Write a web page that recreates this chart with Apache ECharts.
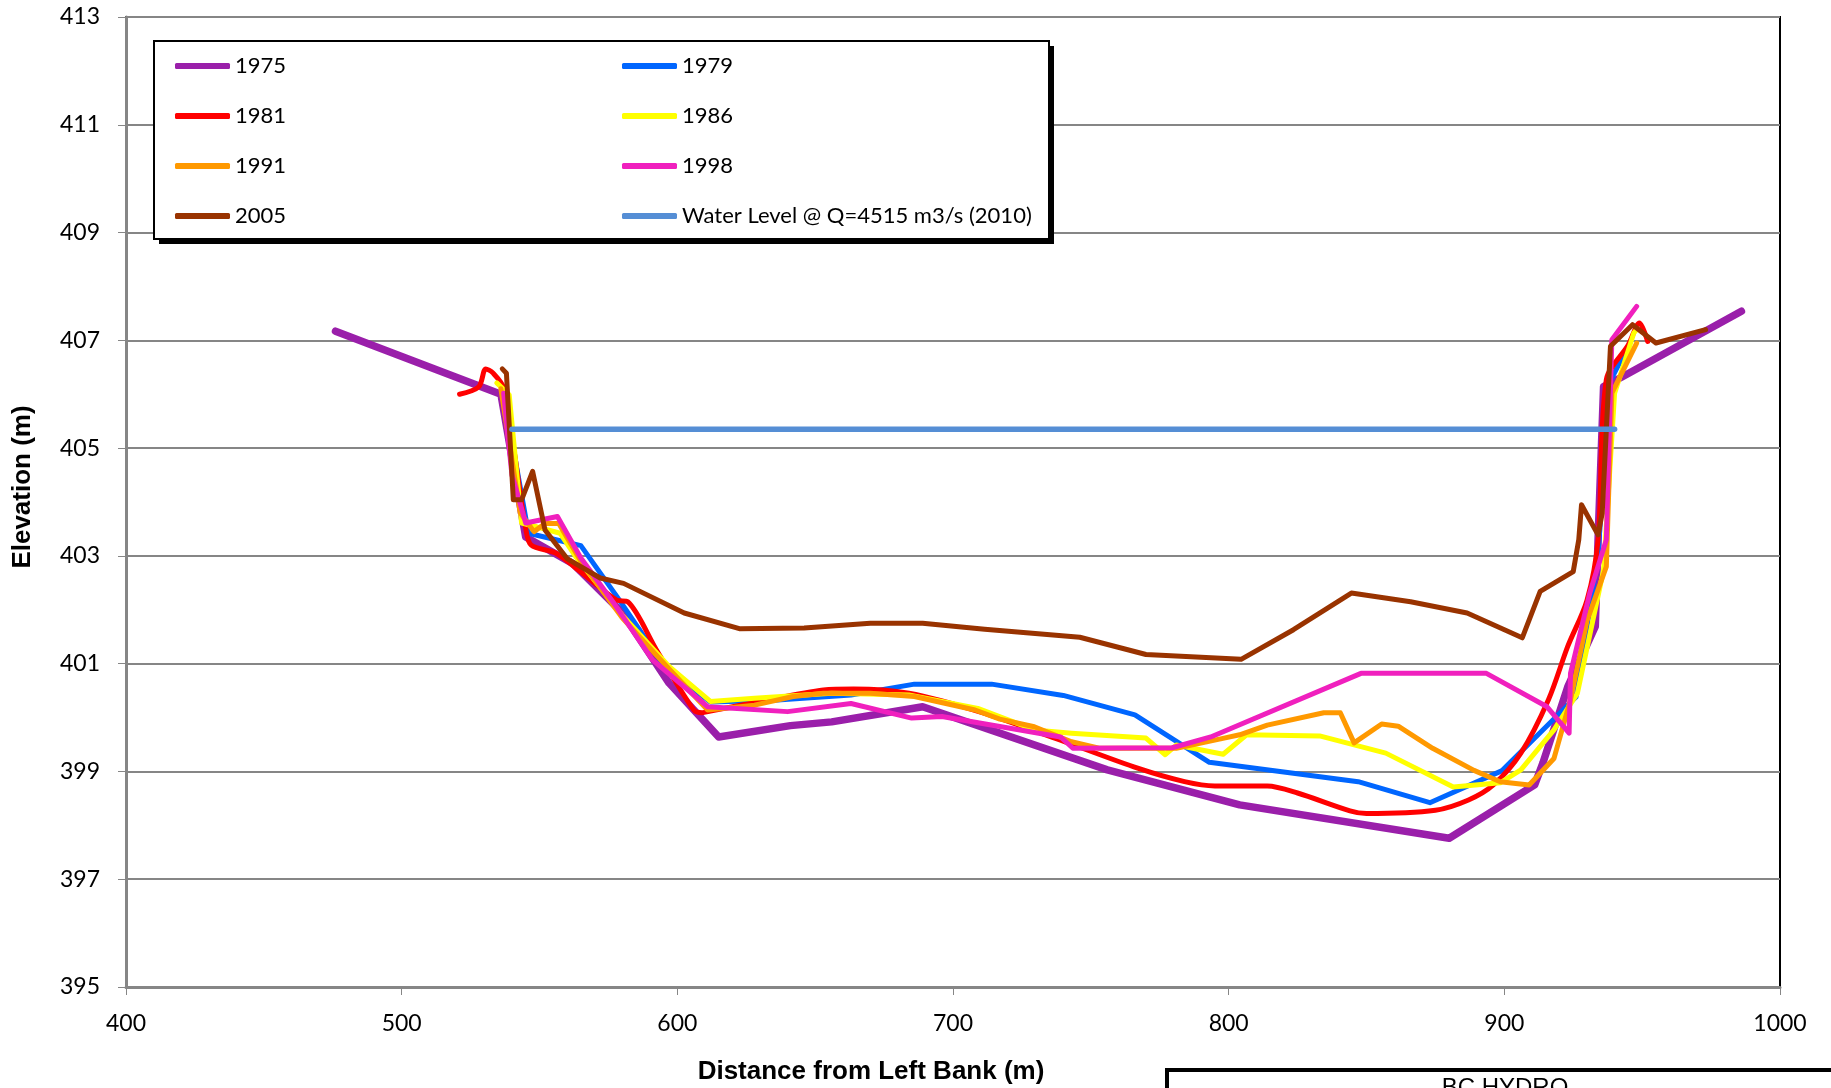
<!DOCTYPE html>
<html><head><meta charset="utf-8">
<script src="https://cdn.jsdelivr.net/npm/echarts@6/dist/echarts.min.js"></script>
<style>html,body{margin:0;padding:0;background:#fff;}#c{width:1831px;height:1088px;}</style>
</head><body><div id="c"></div>
<script>
// ---- data (distance from left bank [m], elevation [m]) ----
const xTicks = [400, 500, 600, 700, 800, 900, 1000];
const yTicks = [395, 397, 399, 401, 403, 405, 407, 409, 411, 413];

const names = ['1975', '1979', '1981', '1986', '1991', '1998', '2005', 'Water Level @ Q=4515 m3/s (2010)'];
const colors = ['#9A1FAA', '#0066FF', '#FF0000', '#FFFF00', '#FF9900', '#F020BE', '#993300', '#558ED5'];

const s1975 = [[476,407.17],[536,406.0],[545,403.35],[562,402.86],[580,401.95],[597,400.64],[615,399.64],[641,399.85],[656,399.92],[689,400.2],[756,399.03],[804,398.38],[880,397.76],[911,398.75],[914,399.16],[923,400.57],[933,401.69],[934,403.3],[936,406.14],[943,406.33],[986,407.54]];
const s1979 = [[537,405.99],[546,403.42],[556,403.3],[565,403.19],[579,402.18],[596,400.9],[612,400.29],[635,400.32],[663,400.42],[686,400.62],[714,400.62],[740,400.41],[766,400.05],[793,399.17],[847,398.81],[873,398.42],[899,399.01],[926,400.38],[934,403.0],[938,406.2],[946,407.0]];
const s1981 = [[521,406.0],[528,406.14],[530.5,406.47],[533,406.4],[537,406.11],[545,403.51],[547,403.2],[556,403.05],[565,402.7],[578,402.18],[582,402.15],[592.5,401.25],[606,400.14],[609,400.09],[612,400.12],[630,400.3],[653,400.51],[664,400.53],[684,400.45],[710,400.1],[739,399.58],[767,399.06],[784,398.81],[795,398.73],[814,398.73],[825,398.6],[844,398.27],[850,398.22],[875,398.28],[887,398.47],[896,398.75],[906,399.34],[916,400.33],[923,401.32],[930,402.18],[934,403.3],[937,406.27],[945,406.92],[949,407.32],[952,406.98]];
const s1986 = [[534.5,406.21],[539,405.99],[543.5,403.61],[549,403.54],[557.5,403.42],[563.5,402.96],[580,401.9],[597,400.95],[612,400.3],[628,400.36],[656,400.45],[684,400.42],[709,400.17],[729.5,399.77],[743,399.71],[770,399.62],[777,399.31],[781,399.49],[798,399.32],[806.5,399.68],[833,399.66],[857,399.34],[881.5,398.71],[898.5,398.79],[906,399.03],[918,399.77],[926.5,400.45],[936,402.74],[940,406.02],[947,407.14],[948,407.2]];
const s1991 = [[536,406.1],[543,403.8],[548,403.45],[552,403.6],[557,403.6],[565,402.9],[580,401.85],[597,400.9],[611,400.14],[628,400.23],[642,400.39],[653,400.45],[670,400.45],[686,400.39],[708,400.14],[717,399.97],[729.5,399.83],[743,399.55],[753,399.43],[781,399.43],[797.5,399.61],[804,399.68],[814,399.86],[834.5,400.09],[840.5,400.09],[845.5,399.53],[855.5,399.88],[861.5,399.84],[874,399.43],[889,399.02],[898.5,398.81],[909,398.75],[918,399.24],[924,400.33],[930,401.8],[937,402.8],[939,406.02],[948,406.95]];
const s1998 = [[537,406.02],[540,404.5],[545,403.61],[556.5,403.73],[565,402.96],[577,402.12],[591,401.07],[611,400.2],[640,400.11],[663,400.26],[685,399.99],[696,400.02],[739,399.64],[743.5,399.43],[779.5,399.44],[793.5,399.64],[848,400.82],[893.5,400.82],[915.5,400.2],[923.5,399.71],[924,400.82],[931,402.31],[937,403.3],[939,407.01],[948,407.63]];
const s2005 = [[536.5,406.47],[538,406.39],[540.5,404.04],[543.5,404.04],[547.5,404.57],[552,403.48],[560,402.95],[572,402.59],[580.5,402.49],[602.5,401.94],[622.5,401.65],[646,401.66],[670,401.75],[689,401.75],[711.5,401.64],[746,401.49],[770,401.17],[804.5,401.08],[823.5,401.63],[844.5,402.31],[866,402.15],[886.5,401.94],[906.5,401.48],[913,402.34],[925,402.71],[927,403.3],[928,403.95],[934,403.39],[935.5,403.79],[938.5,406.89],[946.5,407.29],[955,406.95],[973,407.2]];
const sWater = [[540,405.35],[940,405.35]];

const allData = [s1975, s1979, s1981, s1986, s1991, s1998, s2005, sWater];
const widths = [7.5, 5, 5, 5, 5, 5, 5, 5.5];

const chart = echarts.init(document.getElementById('c'), null, {renderer: 'canvas'});
const series = allData.map((d, i) => ({
  name: names[i],
  type: 'line',
  data: d,
  symbol: 'none',
  smooth: i === 2 ? 0.3 : false,
  animation: false,
  z: 2 + i * 0.01,
  lineStyle: {color: colors[i], width: widths[i], cap: 'round', join: 'round'},
  itemStyle: {color: colors[i]}
}));

const option = {
  animation: false,
  backgroundColor: '#fff',
  grid: {left: 126, right: 51, top: 17, bottom: 101, show: true, borderColor: '#000', borderWidth: 2, backgroundColor: 'transparent'},
  xAxis: {
    type: 'value', min: xTicks[0], max: xTicks[xTicks.length - 1], interval: 100,
    axisLine: {show: true, lineStyle: {color: '#868686', width: 3}},
    axisTick: {show: true, length: 8, lineStyle: {color: '#868686', width: 1}},
    splitLine: {show: false},
    axisLabel: {color: '#000', fontFamily: 'Lato', fontSize: 23, margin: 25, formatter: v => String(v)}
  },
  yAxis: {
    type: 'value', min: yTicks[0], max: yTicks[yTicks.length - 1], interval: 2,
    axisLine: {show: true, lineStyle: {color: '#868686', width: 3}},
    axisTick: {show: true, length: 8, lineStyle: {color: '#868686', width: 1}},
    splitLine: {show: true, lineStyle: {color: '#868686', width: 2}},
    axisLabel: {color: '#000', fontFamily: 'Lato', fontSize: 23, margin: 26, padding: [5, 0, 0, 0], formatter: v => String(v)}
  },
  legend: {
    data: names,
    left: 154, top: 41,
    width: 880,
    orient: 'horizontal',
    padding: [13, 6, 11, 21],
    itemGap: 26,
    itemWidth: 55, itemHeight: 6,
    icon: 'roundRect',
    backgroundColor: '#fff',
    borderColor: '#000', borderWidth: 2,
    z: 10,
    selectedMode: false,
    textStyle: {color: '#000', fontFamily: 'Lato', fontSize: 22, width: 361, lineHeight: 24}
  },
  graphic: [
    {type: 'rect', z: 9, shape: {x: 159, y: 46, width: 895, height: 198}, style: {fill: '#000'}},
    {type: 'text', z: 10, x: 871, y: 1072, style: {text: 'Distance from Left Bank (m)', fill: '#000', font: 'bold 26px "Liberation Sans", Arial, sans-serif', textAlign: 'center', textVerticalAlign: 'middle'}},
    {type: 'text', z: 10, x: 23, y: 487, rotation: Math.PI / 2, style: {text: 'Elevation (m)', fill: '#000', font: 'bold 26px "Liberation Sans", Arial, sans-serif', textAlign: 'center', textVerticalAlign: 'middle'}},
    {type: 'rect', z: 10, shape: {x: 1167, y: 1070, width: 700, height: 60}, style: {fill: '#fff', stroke: '#000', lineWidth: 4}},
    {type: 'text', z: 11, x: 1505, y: 1076, style: {text: 'BC HYDRO', fill: '#000', font: '24px "Liberation Sans", Arial, sans-serif', textAlign: 'center', textVerticalAlign: 'top'}}
  ],
  series: series
};
chart.setOption(option);
</script>
</body></html>
